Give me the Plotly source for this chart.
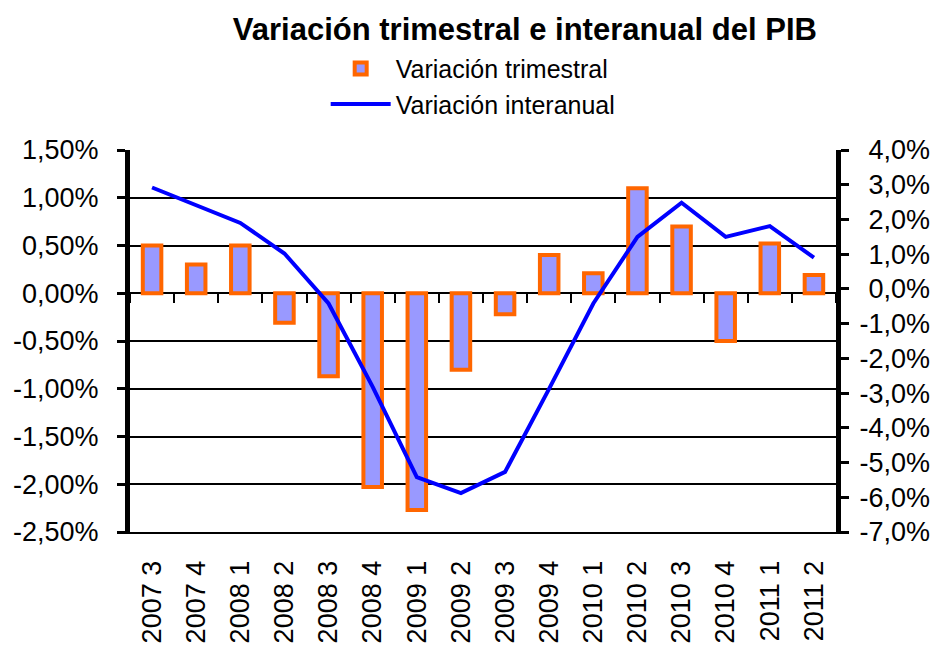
import plotly.graph_objects as go

categories = ["2007 3", "2007 4", "2008 1", "2008 2", "2008 3", "2008 4", "2009 1", "2009 2",
              "2009 3", "2009 4", "2010 1", "2010 2", "2010 3", "2010 4", "2011 1", "2011 2"]
var_trimestral = [0.50, 0.30, 0.50, -0.31, -0.87, -2.03, -2.27, -0.80,
                  -0.22, 0.40, 0.21, 1.10, 0.70, -0.50, 0.52, 0.19]
var_interanual = [2.92, 2.40, 1.90, 1.02, -0.42, -2.82, -5.42, -5.88,
                  -5.27, -2.87, -0.42, 1.50, 2.48, 1.50, 1.81, 0.90]

left_tickvals = [1.5, 1.0, 0.5, 0.0, -0.5, -1.0, -1.5, -2.0, -2.5]
left_ticktext = ["1,50%", "1,00%", "0,50%", "0,00%", "-0,50%", "-1,00%", "-1,50%", "-2,00%", "-2,50%"]
right_tickvals = [4, 3, 2, 1, 0, -1, -2, -3, -4, -5, -6, -7]
right_ticktext = ["4,0%", "3,0%", "2,0%", "1,0%", "0,0%", "-1,0%", "-2,0%", "-3,0%",
                  "-4,0%", "-5,0%", "-6,0%", "-7,0%"]

FONT = "Liberation Sans, Arial, sans-serif"

fig = go.Figure()
fig.add_trace(go.Bar(
    x=categories, y=var_trimestral, name="Variación trimestral",
    marker=dict(color="#9999FF", line=dict(color="#FF6600", width=4)),
    width=0.42, xaxis="x", yaxis="y",
))
fig.add_trace(go.Scatter(
    x=categories, y=var_interanual, name="Variación interanual", mode="lines",
    line=dict(color="#0000FF", width=4), xaxis="x2", yaxis="y2",
))
# invisible companion so the right-hand label axis (y3) gets drawn
fig.add_trace(go.Scatter(
    x=categories, y=var_interanual, mode="lines", opacity=0, showlegend=False,
    hoverinfo="skip", line=dict(width=0), xaxis="x2", yaxis="y3",
))

cat_range = [-0.5, len(categories) - 0.5]
x_domain = [0, 706 / 800]

fig.update_layout(
    width=944, height=646,
    margin=dict(l=130, r=14, t=150, b=114, autoexpand=False),
    paper_bgcolor="white", plot_bgcolor="white",
    font=dict(family=FONT, color="black", size=27),
    title=dict(text="<b>Variación trimestral e interanual del PIB</b>",
               x=0.556, xanchor="center", y=0.955, yanchor="middle",
               font=dict(family=FONT, size=31, color="black")),
    showlegend=True,
    legend=dict(xref="container", yref="container", x=0.345, y=0.929,
                xanchor="left", yanchor="top",
                font=dict(family=FONT, size=25, color="black"),
                itemwidth=60, bgcolor="rgba(0,0,0,0)", tracegroupgap=0),
    xaxis=dict(type="category", range=cat_range, domain=x_domain, showgrid=False,
               showline=True, linecolor="black", linewidth=2,
               ticks="", tickangle=-90, ticklabelstandoff=16,
               tickfont=dict(size=27)),
    xaxis2=dict(type="category", range=cat_range, domain=x_domain, overlaying="x",
                anchor="free", position=0.625, side="bottom", showgrid=False, showline=False,
                ticks="outside", ticklen=9, tickwidth=2, tickcolor="black",
                tickson="boundaries", showticklabels=False),
    yaxis=dict(range=[-2.5, 1.5], tickvals=left_tickvals, ticktext=left_ticktext,
               showgrid=True, gridcolor="black", gridwidth=1.5,
               zeroline=True, zerolinecolor="black", zerolinewidth=2,
               showline=True, linecolor="black", linewidth=5,
               ticks="outside", ticklen=8, tickwidth=3, tickcolor="black",
               ticklabelstandoff=13, tickfont=dict(size=27)),
    yaxis2=dict(range=[-7, 4], tickvals=right_tickvals,
                overlaying="y", side="right", anchor="x", showgrid=False, zeroline=False,
                showline=True, linecolor="black", linewidth=5,
                ticks="outside", ticklen=8, tickwidth=3, tickcolor="black",
                showticklabels=False),
    # label-only axis so that right-hand labels are right-aligned as in the reference
    yaxis3=dict(range=[-7, 4], tickvals=right_tickvals, ticktext=right_ticktext,
                overlaying="y", side="left", anchor="free", position=1.0,
                showgrid=False, zeroline=False, showline=False, ticks="",
                ticklabelstandoff=0, tickfont=dict(size=27)),
)

fig.write_html("out.html", config={"displayModeBar": False},
               post_script="document.body.style.margin='0';")
